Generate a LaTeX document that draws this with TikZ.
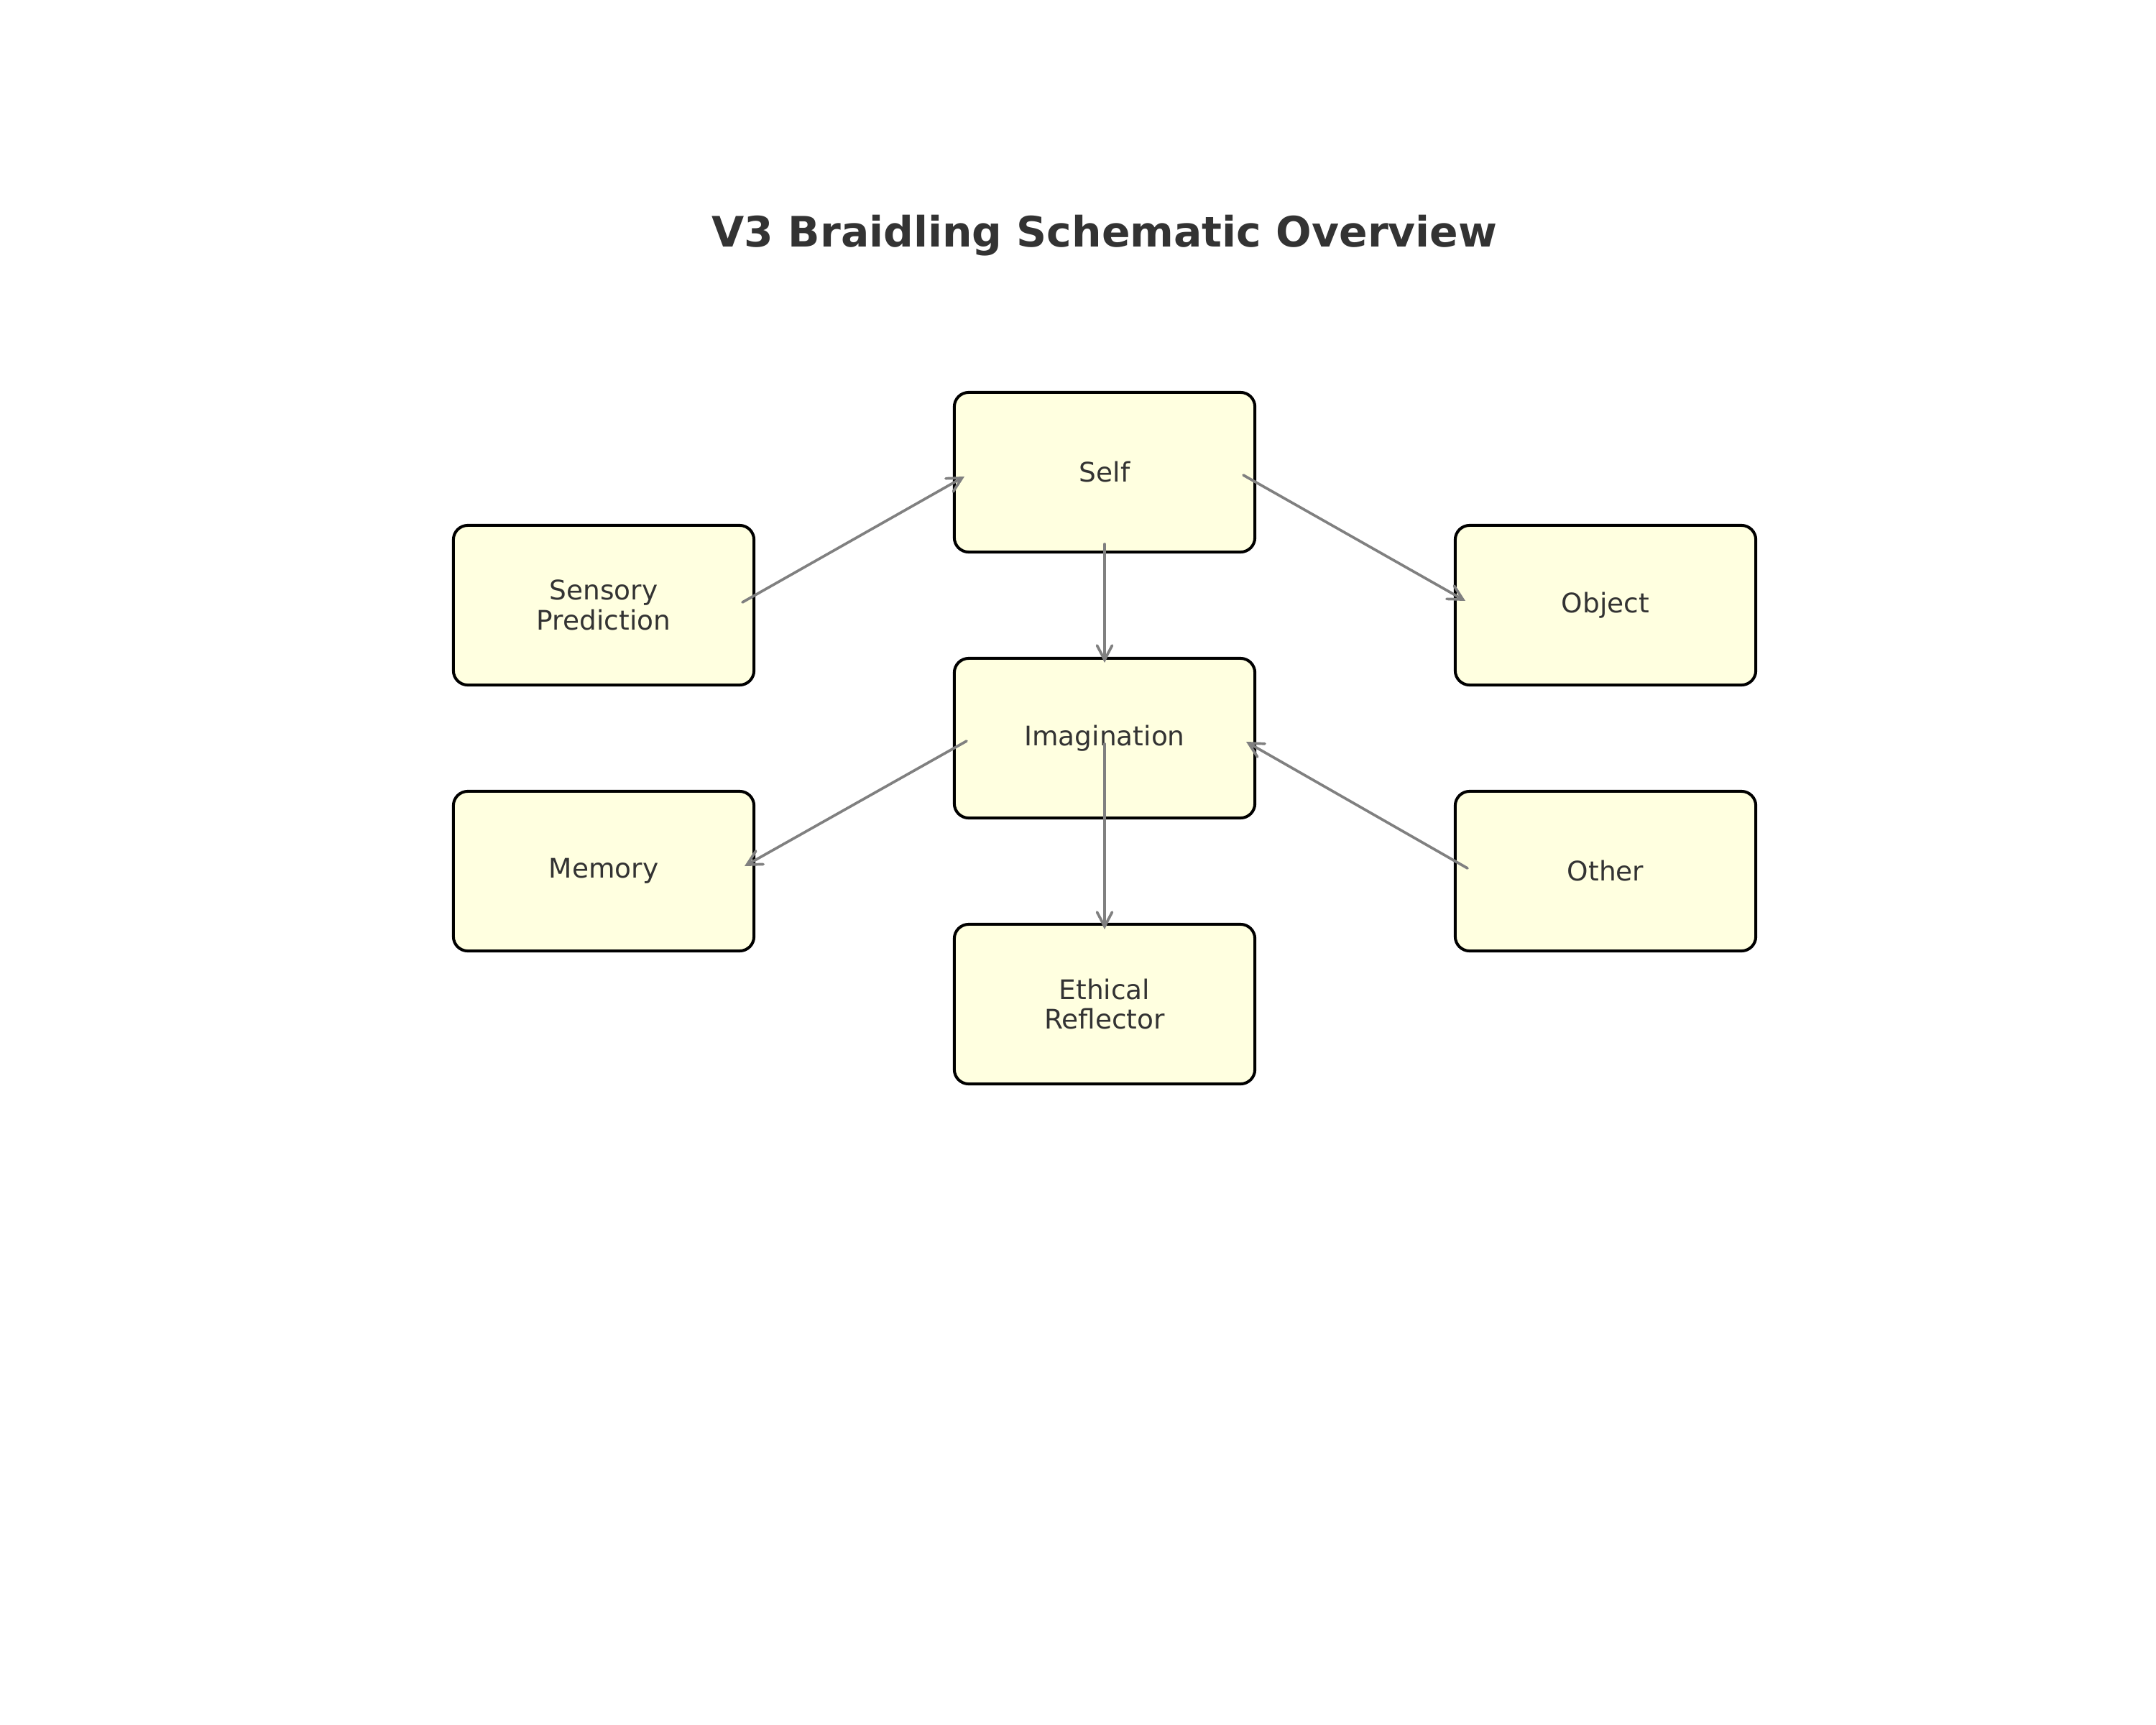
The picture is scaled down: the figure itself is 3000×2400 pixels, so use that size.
\documentclass[tikz,border=0pt]{standalone}
\usepackage{fontspec}
\setmainfont{DejaVu Sans}
\usetikzlibrary{arrows.meta,calc}
\definecolor{boxfill}{HTML}{FFFFE0}
\definecolor{txtcol}{HTML}{333333}
\definecolor{arrcol}{HTML}{808080}
\begin{document}
\begin{tikzpicture}[x=0.01cm,y=-0.01cm,
  box/.style={draw=black, line width=1.15pt, fill=boxfill, rounded corners=0.2cm,
    minimum width=4.18cm, minimum height=2.22cm, inner sep=0pt, align=center,
    text=txtcol, font=\fontsize{10.66}{11.8}\selectfont},
  conn/.style={draw=arrcol, line width=1.05pt, line cap=round,
    -{Straight Barb[length=0.2cm,width=0.21cm,line cap=round]}},
  titlestyle/.style={font=\bfseries\fontsize{16.6}{20}\selectfont, text=txtcol, inner sep=0pt}]
\useasboundingbox (0,0) rectangle (3000,2400);
\node[titlestyle] (title) at (1537,328) {V3 Braidling Schematic Overview};
\node[box] (self) at (1537,657) {Self};
\node[box] (sens) at (840,842) {Sensory\\Prediction};
\node[box] (obj) at (2234,842) {Object};
\node[box] (imag) at (1537,1027) {Imagination};
\node[box] (mem) at (840,1212) {Memory};
\node[box] (oth) at (2234,1212) {Other};
\node[box] (eth) at (1537,1397) {Ethical\\Reflector};
\draw[conn] ($(sens.center)+(193,-4)$) -- ($(self.center)+(-195,6)$);
\draw[conn] ($(self.center)+(193,4)$) -- ($(obj.center)+(-195,-6)$);
\draw[conn] ($(self.center)+(0,100)$) -- ($(imag.center)+(0,-105)$);
\draw[conn] ($(imag.center)+(-192,4)$) -- ($(mem.center)+(196,-7)$);
\draw[conn] ($(oth.center)+(-192,-4)$) -- ($(imag.center)+(197,5)$);
\draw[conn] ($(imag.center)+(0,8)$) -- ($(eth.center)+(0,-104)$);
\end{tikzpicture}
\end{document}
